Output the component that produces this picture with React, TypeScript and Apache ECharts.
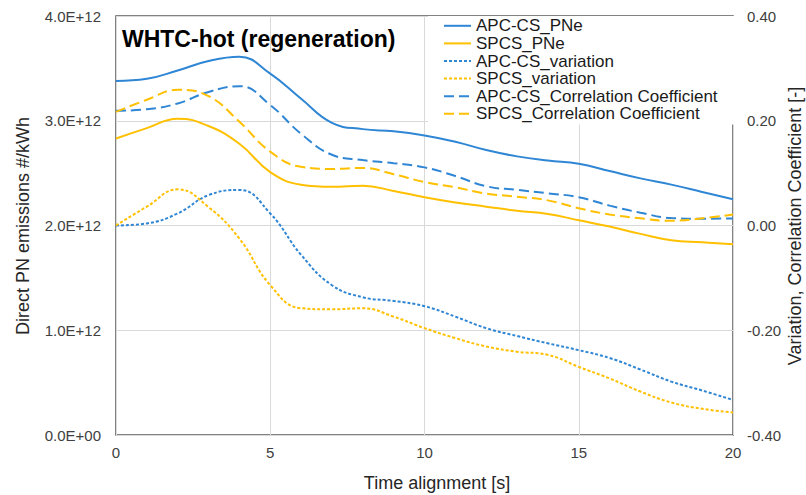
import React, { useEffect, useRef } from "react";
import * as echarts from "echarts";

const timeS = [0, 1, 2, 3, 4, 5, 6, 7, 8, 9, 10, 11, 12, 13, 14, 15, 16, 17, 18, 19, 20];

// left axis (#/kWh, in units of 1E+12)
const apcPNe = [3.38, 3.40, 3.48, 3.57, 3.61, 3.45, 3.21, 2.98, 2.92, 2.90, 2.86, 2.80, 2.72, 2.66, 2.62, 2.59, 2.52, 2.45, 2.39, 2.32, 2.25];
const spcsPNe = [2.83, 2.93, 3.02, 2.95, 2.78, 2.51, 2.39, 2.37, 2.38, 2.33, 2.27, 2.22, 2.18, 2.14, 2.11, 2.05, 1.99, 1.92, 1.86, 1.84, 1.82];

// right axis
const apcVar = [0.0, 0.004, 0.023, 0.058, 0.068, 0.023, -0.056, -0.114, -0.137, -0.144, -0.154, -0.174, -0.196, -0.211, -0.225, -0.238, -0.253, -0.275, -0.298, -0.315, -0.333];
const spcsVar = [0.0, 0.036, 0.069, 0.035, -0.025, -0.114, -0.158, -0.160, -0.158, -0.174, -0.196, -0.215, -0.231, -0.241, -0.247, -0.270, -0.292, -0.317, -0.338, -0.350, -0.357];
const apcCorr = [0.219, 0.222, 0.233, 0.255, 0.266, 0.230, 0.175, 0.135, 0.125, 0.119, 0.111, 0.0945, 0.075, 0.068, 0.0615, 0.054, 0.038, 0.0245, 0.0143, 0.013, 0.0135];
const spcsCorr = [0.217, 0.240, 0.259, 0.247, 0.198, 0.141, 0.112, 0.108, 0.110, 0.098, 0.083, 0.073, 0.061, 0.055, 0.048, 0.033, 0.021, 0.0137, 0.009, 0.0137, 0.021];

const seriesNames = [
  "APC-CS_PNe",
  "SPCS_PNe",
  "APC-CS_variation",
  "SPCS_variation",
  "APC-CS_Correlation Coefficient",
  "SPCS_Correlation Coefficient",
];

const BLUE = "#2F86D4";
const YELLOW = "#FFC000";
const FONT = "'Liberation Sans', Arial, sans-serif";

const pairs = (ys: number[], scale = 1) => ys.map((y, i) => [timeS[i], y * scale]);

const fmtSci = (v: number) => {
  const s = v.toExponential(1).toUpperCase();
  return s.replace(/E([+-])(\d)$/, "E$10$2");
};

export default function App() {
  const ref = useRef<HTMLDivElement>(null);
  useEffect(() => {
    if (!ref.current) return;
    const chart = echarts.init(ref.current, null, { renderer: "svg" });
    const mk = (name: string, data: number[], color: string, type: any, axis: number, scale = 1) => ({
      name,
      type: "line",
      yAxisIndex: axis,
      data: pairs(data, scale),
      smooth: 0.45,
      symbol: "none",
      lineStyle: { color, width: 2, type },
      itemStyle: { color },
    });
    chart.setOption({
      animation: false,
      backgroundColor: "#fff",
      textStyle: { fontFamily: FONT },
      title: {
        text: "WHTC-hot (regeneration)",
        left: 122,
        top: 27,
        padding: 0,
        textStyle: { fontFamily: FONT, fontSize: 23, fontWeight: "bold", color: "#000" },
      },
      legend: {
        orient: "vertical",
        left: 428,
        top: 16,
        padding: [1, 29, 2, 15],
        backgroundColor: "#fff",
        itemGap: 0,
        itemWidth: 27,
        itemHeight: 10,
        itemStyle: { opacity: 0 },
        data: seriesNames,
        textStyle: { fontFamily: FONT, fontSize: 17, lineHeight: 17.6, color: "#1a1a1a" },
      },
      grid: {
        left: 116,
        right: 73,
        top: 16,
        bottom: 60,
        show: true,
        borderColor: "#595959",
        borderWidth: 1.5,
        containLabel: false,
      },
      xAxis: {
        type: "value",
        min: 0,
        max: 20,
        interval: 5,
        axisLine: { show: false },
        axisTick: { show: false },
        splitLine: { show: true, lineStyle: { color: "#d9d9d9", width: 1 } },
        axisLabel: { fontFamily: FONT, fontSize: 15, color: "#404040", margin: 10 },
      },
      yAxis: [
        {
          type: "value",
          min: 0,
          max: 4e12,
          interval: 1e12,
          axisLine: { show: false },
          axisTick: { show: false },
          splitLine: { show: true, lineStyle: { color: "#d9d9d9", width: 1 } },
          axisLabel: { fontFamily: FONT, fontSize: 15, color: "#404040", margin: 15, formatter: (v: number) => fmtSci(v) },
        },
        {
          type: "value",
          min: -0.4,
          max: 0.4,
          interval: 0.2,
          position: "right",
          axisLine: { show: false },
          axisTick: { show: false },
          splitLine: { show: false },
          axisLabel: { fontFamily: FONT, fontSize: 15, color: "#404040", margin: 14, formatter: (v: number) => (Math.abs(v) < 1e-9 ? 0 : v).toFixed(2) },
        },
      ],
      graphic: [
        {
          type: "text",
          x: 23,
          y: 226,
          rotation: Math.PI / 2,
          style: { text: "Direct PN emissions #/kWh", fontFamily: FONT, fontSize: 18, fill: "#262626", align: "center", verticalAlign: "middle" },
        },
        {
          type: "text",
          x: 795,
          y: 226,
          rotation: Math.PI / 2,
          style: { text: "Variation, Correlation Coefficient [-]", fontFamily: FONT, fontSize: 18, fill: "#262626", align: "center", verticalAlign: "middle" },
        },
        {
          type: "text",
          x: 437,
          y: 483,
          style: { text: "Time alignment [s]", fontFamily: FONT, fontSize: 18, fill: "#262626", align: "center", verticalAlign: "middle" },
        },
      ],
      series: [
        mk(seriesNames[0], apcPNe, BLUE, "solid", 0, 1e12),
        mk(seriesNames[1], spcsPNe, YELLOW, "solid", 0, 1e12),
        mk(seriesNames[2], apcVar, BLUE, [3, 2], 1),
        mk(seriesNames[3], spcsVar, YELLOW, [3, 2], 1),
        mk(seriesNames[4], apcCorr, BLUE, [10, 5], 1),
        mk(seriesNames[5], spcsCorr, YELLOW, [10, 5], 1),
      ],
    });
    return () => chart.dispose();
  }, []);
  return <div ref={ref} style={{ width: 806, height: 495, position: "absolute", left: 0, top: 0 }} />;
}
